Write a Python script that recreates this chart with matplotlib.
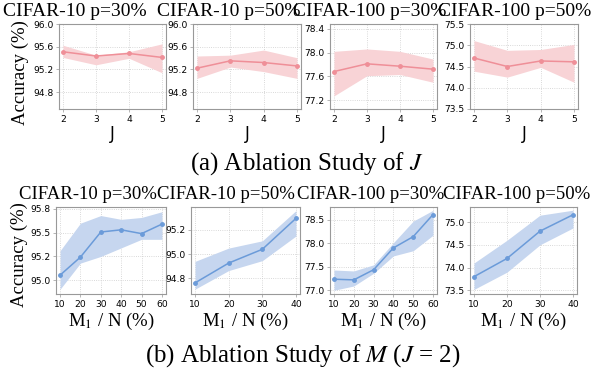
import matplotlib
matplotlib.use("Agg")
import matplotlib.pyplot as plt
import numpy as np

# ---- data ----
titles = ["CIFAR-10 p=30%", "CIFAR-10 p=50%", "CIFAR-100 p=30%", "CIFAR-100 p=50%"]

j_values = [2, 3, 4, 5]
j_mean = [
    [95.51, 95.435, 95.48, 95.41],
    [95.22, 95.35, 95.32, 95.26],
    [77.68, 77.81, 77.77, 77.72],
    [74.70, 74.50, 74.63, 74.61],
]
j_upper = [
    [95.625, 95.45, 95.51, 95.65],
    [95.435, 95.45, 95.54, 95.405],
    [78.02, 78.06, 78.02, 77.89],
    [75.11, 74.88, 74.90, 75.02],
]
j_lower = [
    [95.41, 95.28, 95.395, 95.14],
    [95.04, 95.24, 95.16, 95.04],
    [77.27, 77.61, 77.63, 77.50],
    [74.39, 74.25, 74.48, 74.13],
]
j_yticks = [
    [94.8, 95.2, 95.6, 96.0],
    [94.8, 95.2, 95.6, 96.0],
    [77.2, 77.6, 78.0, 78.4],
    [73.5, 74.0, 74.5, 75.0, 75.5],
]
j_ylim = [(94.5, 96.0), (94.5, 96.0), (77.05, 78.48), (73.5, 75.5)]

m_values = [
    [10, 20, 30, 40, 50, 60],
    [10, 20, 30, 40],
    [10, 20, 30, 40, 50, 60],
    [10, 20, 30, 40],
]
m_mean = [
    [95.053, 95.243, 95.507, 95.53, 95.49, 95.59],
    [94.762, 94.926, 95.04, 95.296],
    [77.235, 77.22, 77.436, 77.90, 78.14, 78.61],
    [73.80, 74.20, 74.80, 75.16],
]
m_upper = [
    [95.31, 95.60, 95.68, 95.64, 95.66, 95.72],
    [94.94, 95.05, 95.11, 95.36],
    [77.43, 77.41, 77.54, 78.01, 78.47, 78.70],
    [74.10, 74.60, 75.15, 75.26],
]
m_lower = [
    [94.905, 95.18, 95.25, 95.34, 95.43, 95.43],
    [94.71, 94.864, 94.946, 95.15],
    [77.00, 77.09, 77.36, 77.73, 77.84, 78.17],
    [73.52, 73.90, 74.50, 74.87],
]
m_yticks = [
    [95.0, 95.25, 95.5, 95.75],
    [94.8, 95.0, 95.2],
    [77.0, 77.5, 78.0, 78.5],
    [73.5, 74.0, 74.5, 75.0],
]
m_ylim = [(94.855, 95.77), (94.67, 95.39), (76.92, 78.77), (73.42, 75.33)]

# ---- layout (pixels in a 607x370 canvas) ----
W, H = 607, 370
plt.rcParams["mathtext.fontset"] = "stix"
SERIF = "Liberation Serif"

top_boxes = [(59, 166), (193, 301), (330, 437), (470, 578)]
bot_boxes = [(56, 166), (191, 300), (330, 437), (470, 577)]
top_title_x = [75, 229, 370, 515]
bot_title_x = [88, 226, 371, 517]

RED_LINE, RED_FILL = "#ef8f98", "#f8d3d6"
BLUE_LINE, BLUE_FILL = "#6b9bd9", "#c6d6ef"


def px_axes(fig, x0, x1, y0, y1):
    return fig.add_axes([x0 / W, 1 - y1 / H, (x1 - x0) / W, (y1 - y0) / H])


def style(ax, yticks, ylim):
    ax.set_ylim(*ylim)
    ax.set_yticks(yticks)
    ax.set_yticklabels([f"{t:.1f}" for t in yticks])
    ax.grid(True, linestyle=":", linewidth=0.6, color="#cccccc")
    ax.set_axisbelow(True)
    for s in ax.spines.values():
        s.set_color("#999999")
        s.set_linewidth(0.8)
    ax.tick_params(labelsize=6.6, length=2, width=0.5, color="#999999", pad=2)


fig = plt.figure(figsize=(W / 100, H / 100), dpi=100)

for i in range(4):
    ax = px_axes(fig, top_boxes[i][0], top_boxes[i][1], 24, 109)
    ax.fill_between(j_values, j_lower[i], j_upper[i], color=RED_FILL, linewidth=0)
    ax.plot(j_values, j_mean[i], color=RED_LINE, marker="o", markersize=2.5, linewidth=1.1)
    ax.set_xticks(j_values)
    ax.margins(x=0.04)
    style(ax, j_yticks[i], j_ylim[i])
    ax.set_xlabel("J", fontsize=12, labelpad=1)
    fig.text(top_title_x[i] / W, 1 - 16 / H, titles[i], family=SERIF, fontsize=14,
             ha="center", va="baseline")

for i in range(4):
    ax = px_axes(fig, bot_boxes[i][0], bot_boxes[i][1], 207, 294)
    ax.fill_between(m_values[i], m_lower[i], m_upper[i], color=BLUE_FILL, linewidth=0)
    ax.plot(m_values[i], m_mean[i], color=BLUE_LINE, marker="o", markersize=2.5, linewidth=1.1)
    ax.set_xticks(m_values[i])
    ax.margins(x=0.04)
    style(ax, m_yticks[i], m_ylim[i])
    ax.set_xlabel("M$_1$ / N (%)", family=SERIF, fontsize=13.5, labelpad=2)
    fig.text(bot_title_x[i] / W, 1 - 199 / H, titles[i], family=SERIF, fontsize=13.5,
             ha="center", va="baseline")

fig.text(20 / W, 1 - 73 / H, "Accuracy (%)", family=SERIF, fontsize=13.5,
         rotation=90, ha="center", va="center")
fig.text(19 / W, 1 - 255 / H, "Accuracy (%)", family=SERIF, fontsize=13.5,
         rotation=90, ha="center", va="center")

fig.text(307 / W, 1 - 170 / H, "(a) Ablation Study of $J$", family=SERIF, fontsize=18,
         ha="center", va="baseline")
fig.text(303 / W, 1 - 362 / H, "(b) Ablation Study of $M$ ($J$ = 2)", family=SERIF,
         fontsize=18, ha="center", va="baseline")

fig.savefig("out.png", dpi=100)
